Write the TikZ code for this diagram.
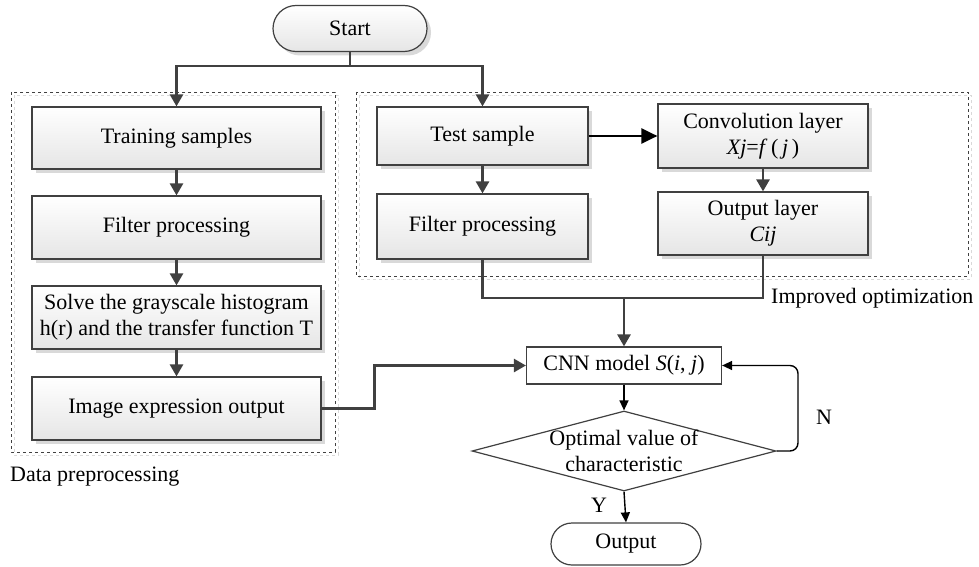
\documentclass[tikz,border=0pt]{standalone}
\usepackage{fontspec}
\setmainfont{Liberation Serif}
\usetikzlibrary{arrows.meta,shapes.geometric,shapes.misc,shadows,calc}
\definecolor{lc}{HTML}{404040}
\begin{document}
\begin{tikzpicture}[x=1pt,y=-1pt,
  font=\fontsize{22}{26}\selectfont,
  gbox/.style={draw=lc,line width=1.2pt,top color=white,bottom color=gray!20,
    drop shadow={shadow xshift=4pt,shadow yshift=-4pt,fill=gray!30,opacity=1},
    inner sep=2pt,align=center},
  term/.style={rounded rectangle,draw=lc,line width=1.2pt,inner sep=2pt},
  garr/.style={draw=lc,line width=2.6pt,-{Triangle[width=13pt,length=12pt]}},
  gline/.style={draw=lc,line width=2.6pt},
  barr/.style={draw=black,line width=1.4pt,-{Triangle[width=9pt,length=10pt]}},
  dbox/.style={draw=lc,dashed,line width=0.8pt},
  dshadow/.style={draw=gray!30,dashed,line width=0.8pt}]
\useasboundingbox (0,0) rectangle (979,567);
% dashed groups
\draw[dshadow] (14,95) rectangle (338,455);
\draw[dbox] (11,92) rectangle (335,452);
\draw[dshadow] (359,95) rectangle (971,279);
\draw[dbox] (356,92) rectangle (968,276);
% nodes
\node[term,top color=white,bottom color=gray!20,
  drop shadow={shadow xshift=4pt,shadow yshift=-4pt,fill=gray!30,opacity=1},
  minimum width=158pt,minimum height=46pt] (start) at (350,28.5) {Start};
\node[gbox,minimum width=289pt,minimum height=62pt] (ts) at (176.5,138) {Training samples};
\node[gbox,minimum width=289pt,minimum height=63pt] (fp1) at (176.5,227.5) {Filter processing};
\node[gbox,minimum width=289pt,minimum height=63pt] (solve) at (176.5,317.5) {Solve the grayscale histogram\\h(r) and the transfer function T};
\node[gbox,minimum width=289pt,minimum height=63pt] (img) at (176.5,408.5) {Image expression output};
\node[gbox,minimum width=211pt,minimum height=58pt] (test) at (482.5,136) {Test sample};
\node[gbox,minimum width=211pt,minimum height=65pt] (fp2) at (482.5,226.5) {Filter processing};
\node[gbox,minimum width=210pt,minimum height=64pt] (conv) at (763,136) {Convolution layer\\\textit{Xj}=\textit{f}\,(\,\textit{j}\,)};
\node[gbox,minimum width=210pt,minimum height=63pt] (outl) at (763,223.5) {Output layer\\\textit{Cij}};
\node[draw=lc,line width=1.2pt,fill=white,minimum width=195pt,minimum height=37pt,inner sep=2pt] (cnn) at (624,365.5) {CNN model \textit{S}(\textit{i}, \textit{j})};
\node[diamond,draw=lc,line width=1.2pt,fill=white,inner sep=0pt,aspect=3.8,
  minimum width=304pt,minimum height=80pt,
  label={[align=center,font=\fontsize{22}{26}\selectfont]center:Optimal value of\\characteristic}] (dia) at (624,451) {};
\node[term,fill=white,minimum width=154pt,minimum height=42pt] (out) at (626,544) {Output};
% labels
\node[anchor=west,inner sep=0pt] (lab1) at (10,477) {Data preprocessing};
\node[anchor=west,inner sep=0pt] (lab2) at (771,298) {Improved optimization};
\node[inner sep=0pt] (ylab) at (599,505) {Y};
\node[inner sep=0pt] (nlab) at (824,417) {N};
% connectors
\coordinate (sp) at (350,66);
\draw[gline] (start.south) -- (sp);
\draw[garr] (sp) -| (ts.north);
\draw[garr] (sp) -| (test.north);
\draw[garr] (ts) -- (fp1);
\draw[garr] (fp1) -- (solve);
\draw[garr] (solve) -- (img);
\draw[garr] (test) -- (fp2);
\draw[garr] (conv) -- (outl);
\draw[draw=black,line width=2.6pt,-{Triangle[width=15pt,length=16pt]}] (test) -- (conv);
\coordinate (jn) at (624,298);
\draw[gline] (fp2.south) |- (jn);
\draw[gline] (outl.south) |- (jn);
\draw[garr] (jn) -- (cnn.north);
\draw[garr] (img.east) -- ++(53,0) |- (cnn.west);
\draw[barr] (cnn) -- (dia.north);
\draw[barr,rounded corners=8pt] (dia.east) -- (798,451) -- (798,365.5) -- (cnn.east);
\draw[barr] (dia.south) -- (out.north);
\end{tikzpicture}
\end{document}
